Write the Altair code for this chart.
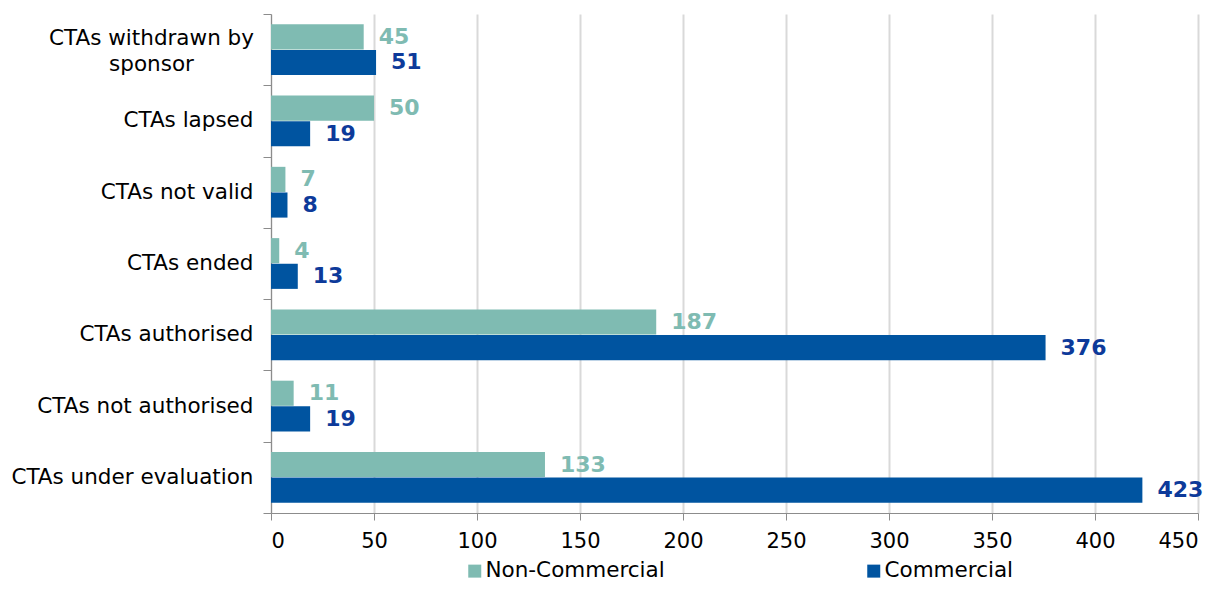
import altair as alt
import pandas as pd

categories = [
    "CTAs withdrawn by sponsor",
    "CTAs lapsed",
    "CTAs not valid",
    "CTAs ended",
    "CTAs authorised",
    "CTAs not authorised",
    "CTAs under evaluation",
]
series = ["Non-Commercial", "Commercial"]
non_commercial = [45, 50, 7, 4, 187, 11, 133]
commercial = [51, 19, 8, 13, 376, 19, 423]
x_ticks = [0, 50, 100, 150, 200, 250, 300, 350, 400, 450]

rows = []
for c, a, b in zip(categories, non_commercial, commercial):
    rows.append({"category": c, "series": series[0], "value": a})
    rows.append({"category": c, "series": series[1], "value": b})
df = pd.DataFrame(rows)

FONT = "DejaVu Sans"
bar_colors = ["#7FBBB2", "#0054A0"]
label_colors = ["#7FBBB2", "#0D3A9A"]

WRAP = "datum.value == 'CTAs withdrawn by sponsor'"
label_expr = WRAP + " ? ['CTAs withdrawn by', 'sponsor'] : datum.value"

y_enc = alt.Y(
    "category:N",
    sort=categories,
    scale=alt.Scale(paddingInner=0, paddingOuter=0),
    axis=alt.Axis(
        title=None,
        labelFont=FONT,
        labelFontSize=21.5,
        labelColor="#000000",
        labelPadding={"condition": {"test": WRAP, "value": 112}, "value": 10},
        labelAlign={"condition": {"test": WRAP, "value": "center"}, "value": "right"},
        labelOffset={"condition": {"test": WRAP, "value": -11}, "value": 0},
        labelLimit=400,
        labelExpr=label_expr,
        labelLineHeight=26,
        tickBand="extent",
        tickSize=8,
        tickColor="#8c8c8c",
        domainColor="#8c8c8c",
        grid=False,
    ),
)
y_off = alt.YOffset(
    "series:N",
    sort=series,
    scale=alt.Scale(paddingInner=0.02, paddingOuter=0.4),
)
x_enc = alt.X(
    "value:Q",
    scale=alt.Scale(domain=[0, 450], nice=False),
    axis=alt.Axis(
        title=None,
        values=x_ticks,
        labelFont=FONT,
        labelFontSize=21,
        labelColor="#000000",
        labelPadding=10,
        tickSize=7,
        tickColor="#8c8c8c",
        domainColor="#8c8c8c",
        gridColor="#d9d9d9",
        gridWidth=2,
    ),
)

bars = alt.Chart(df).mark_bar().encode(
    x=x_enc,
    y=y_enc,
    yOffset=y_off,
    color=alt.Color(
        "series:N",
        sort=series,
        scale=alt.Scale(domain=series, range=bar_colors),
        legend=alt.Legend(
            title=None,
            orient="none",
            legendX=193,
            legendY=546,
            direction="horizontal",
            symbolType="square",
            symbolSize=169,
            symbolStrokeWidth=0,
            labelFont=FONT,
            labelFontSize=21.5,
            labelColor="#000000",
            labelOffset=0,
            columnPadding=198,
            labelLimit=400,
        ),
    ),
)

labels = alt.Chart(df).mark_text(
    align="left", baseline="middle", dx=15, font=FONT, fontSize=22, fontWeight="bold"
).encode(
    x="value:Q",
    y=alt.Y("category:N", sort=categories),
    yOffset=y_off,
    text="value:Q",
    color=alt.Color(
        "series:N",
        sort=series,
        scale=alt.Scale(domain=series, range=label_colors),
        legend=None,
    ),
)

chart = (
    alt.layer(bars, labels)
    .resolve_scale(color="independent")
    .properties(
        width=927,
        height=499,
        autosize=alt.AutoSizeParams(type="none"),
        padding={"left": 263, "top": 6, "right": 12, "bottom": 69},
    )
    .configure_view(stroke=None)
)

chart.save("out.html", embed_options={"renderer": "svg", "actions": False})
